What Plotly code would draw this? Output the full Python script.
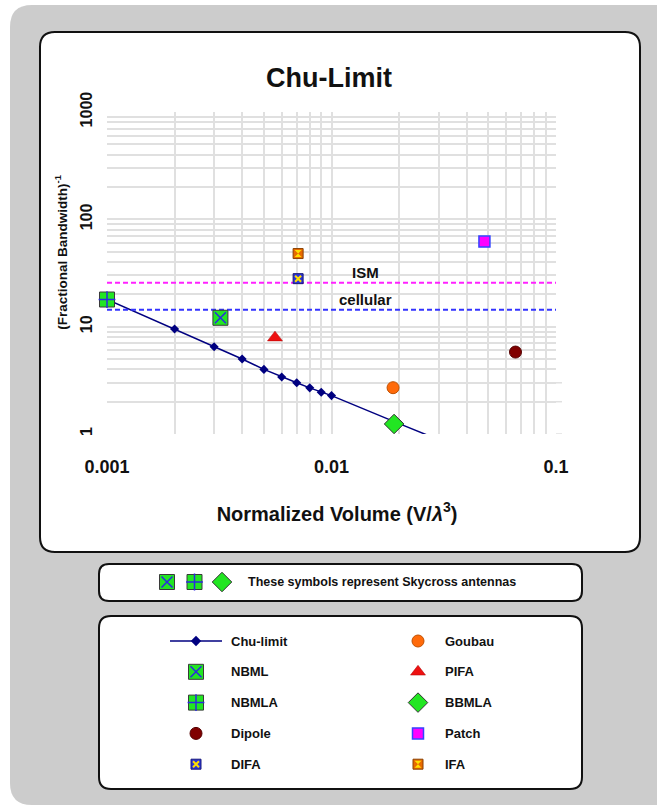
import numpy as np
import plotly.graph_objects as go

# ---------------- data ----------------
chu_x = [0.001, 0.002, 0.003, 0.004, 0.005, 0.006, 0.007, 0.008, 0.009, 0.01, 0.02, 0.03]
chu_y = [17.9, 9.5, 6.5, 5.0, 4.0, 3.4, 3.0, 2.69, 2.45, 2.28, 1.25, 0.885]

nbml_x, nbml_y = [0.0032], [12.1]
nbmla_x, nbmla_y = [0.001], [17.9]
dipole_x, dipole_y = [0.066], [5.8]
difa_x, difa_y = [0.0071], [28.0]
goubau_x, goubau_y = [0.0188], [2.7]
pifa_x, pifa_y = [0.0056], [7.9]
bbmla_x, bbmla_y = [0.019], [1.24]
patch_x, patch_y = [0.048], [62.0]
ifa_x, ifa_y = [0.0071], [48.0]

ism_level = 25.6
cellular_level = 14.4
band_labels = ["ISM", "cellular"]
band_label_x = 0.0141

x_tick_vals = [0.001, 0.01, 0.1]
x_tick_text = ["0.001", "0.01", "0.1"]
y_tick_vals = [1, 10, 100, 1000]
y_tick_text = ["1", "10", "100", "1000"]

legend_col1 = ["Chu-limit", "NBML", "NBMLA", "Dipole", "DIFA"]
legend_col2 = ["Goubau", "PIFA", "BBMLA", "Patch", "IFA"]
skycross_names = ["NBML", "NBMLA", "BBMLA"]
skycross_text = "These symbols represent Skycross antennas"

title_text = "Chu-Limit"
x_title = "Normalized Volume (V/<i>λ</i><sup>3</sup>)"
y_title = "(Fractional Bandwidth)<sup>-1</sup>"

# ---------------- styles ----------------
W, H = 657, 807
FONT = "Liberation Sans, Arial, sans-serif"
GRID = "#e0e0e0"
GREEN = "#22e622"
NAVY = "#000080"
BLUE_X = "#2a2ae0"
YELLOW = "#ffe000"
NBSP = "&nbsp;"


def px(x):
    return x / W


def py(y):
    return 1 - y / H


STYLES = {
    "NBML": [dict(symbol="square", size=15, color=GREEN, line=dict(color="#3a3a3a", width=1)),
             dict(symbol="x-thin", size=11, color=BLUE_X, line=dict(color=BLUE_X, width=1.5))],
    "NBMLA": [dict(symbol="square", size=15, color=GREEN, line=dict(color="#3a3a3a", width=1)),
              dict(symbol="cross-thin", size=12, color=BLUE_X, line=dict(color=BLUE_X, width=1.5))],
    "Dipole": [dict(symbol="circle", size=12, color="#800000", line=dict(color="#550000", width=1))],
    "DIFA": [dict(symbol="square", size=10, color="#2b35d8", line=dict(color="#1a1a7a", width=1)),
             dict(symbol="x-thin", size=6, color=YELLOW, line=dict(color=YELLOW, width=2))],
    "Goubau": [dict(symbol="circle", size=12, color="#ff6a0a", line=dict(color="#c05000", width=1))],
    "PIFA": [dict(symbol="triangle-up", size=13, color="#ee1111", line=dict(color="#aa0000", width=0.5))],
    "BBMLA": [dict(symbol="diamond", size=15, color=GREEN, line=dict(color="#333333", width=1))],
    "Patch": [dict(symbol="square", size=11, color="#ff00ff", line=dict(color="#3344ff", width=1.5))],
    "IFA": [dict(symbol="square", size=10, color="#e86a00", line=dict(color="#8a4000", width=1)),
            dict(symbol="hourglass", size=7, color=YELLOW, line=dict(color=YELLOW, width=0))],
}

SERIES = {
    "NBML": (nbml_x, nbml_y),
    "NBMLA": (nbmla_x, nbmla_y),
    "Dipole": (dipole_x, dipole_y),
    "DIFA": (difa_x, difa_y),
    "Goubau": (goubau_x, goubau_y),
    "PIFA": (pifa_x, pifa_y),
    "BBMLA": (bbmla_x, bbmla_y),
    "Patch": (patch_x, patch_y),
    "IFA": (ifa_x, ifa_y),
}

fig = go.Figure()

# Chu-limit line
fig.add_trace(go.Scatter(x=chu_x, y=chu_y, mode="lines+markers",
                         line=dict(color=NAVY, width=1.5),
                         marker=dict(symbol="diamond", size=7, color=NAVY),
                         showlegend=False, hoverinfo="skip"))

# band lines
for lvl, col in [(ism_level, "#ff22ff"), (cellular_level, "#3333ff")]:
    fig.add_trace(go.Scatter(x=[x_tick_vals[0], x_tick_vals[-1]], y=[lvl, lvl], mode="lines",
                             line=dict(color=col, width=2, dash="5px,3px"),
                             showlegend=False, hoverinfo="skip"))

# antenna markers
draw_order = ["Dipole", "Goubau", "Patch", "PIFA", "IFA", "DIFA", "NBML", "BBMLA", "NBMLA"]
for name in draw_order:
    xs, ys = SERIES[name]
    for layer in STYLES[name]:
        fig.add_trace(go.Scatter(x=xs, y=ys, mode="markers", marker=layer, cliponaxis=False,
                                 showlegend=False, hoverinfo="skip"))

# ---------------- legend / note (auxiliary pixel axis) ----------------
def add_symbol(name, cx, cy):
    for layer in STYLES[name]:
        fig.add_trace(go.Scatter(x=[cx], y=[cy], mode="markers", marker=layer,
                                 xaxis="x2", yaxis="y2", cliponaxis=False,
                                 showlegend=False, hoverinfo="skip"))


annotations = []
LEG_ROW0, LEG_STEP = 641, 30.8
COLS = [(legend_col1, 196, 229), (legend_col2, 418, 443)]
for names, mx, tx in COLS:
    for i, name in enumerate(names):
        cy = LEG_ROW0 + i * LEG_STEP
        if name == "Chu-limit":
            fig.add_trace(go.Scatter(x=[mx - 26, mx, mx + 26], y=[cy, cy, cy], mode="lines",
                                     line=dict(color=NAVY, width=1.5), xaxis="x2", yaxis="y2",
                                     cliponaxis=False, showlegend=False, hoverinfo="skip"))
            fig.add_trace(go.Scatter(x=[mx], y=[cy], mode="markers",
                                     marker=dict(symbol="diamond", size=8, color=NAVY),
                                     xaxis="x2", yaxis="y2", cliponaxis=False,
                                     showlegend=False, hoverinfo="skip"))
        else:
            add_symbol(name, mx, cy)
        annotations.append(dict(x=px(tx), y=py(cy), xref="paper", yref="paper",
                                text=f"<b>{name}</b>", showarrow=False, xanchor="left",
                                yanchor="middle", font=dict(family=FONT, size=13, color="#111")))

SKY_Y = 582
for i, name in enumerate(skycross_names):
    add_symbol(name, 167 + i * 27.5, SKY_Y)
annotations.append(dict(x=px(245.5), y=py(SKY_Y), xref="paper", yref="paper",
                        text=f"<b>{skycross_text}</b>", showarrow=False, xanchor="left",
                        yanchor="middle", font=dict(family=FONT, size=12.5, color="#111")))

# band labels
for lbl, lvl in zip(band_labels, [ism_level, cellular_level]):
    annotations.append(dict(x=np.log10(band_label_x), y=np.log10(lvl), xref="x", yref="y",
                            text=f"<b>{lbl}</b>", showarrow=False, xanchor="center",
                            yanchor="bottom", yshift=0,
                            font=dict(family=FONT, size=15, color="#111")))

# ---------------- panels ----------------
def rrect(x0, y0, x1, y1, r, fill, line_color=None, lw=0):
    pts = [("M", x0 + r, y0), ("L", x1 - r, y0), ("Q", x1, y0, x1, y0 + r), ("L", x1, y1 - r),
           ("Q", x1, y1, x1 - r, y1), ("L", x0 + r, y1), ("Q", x0, y1, x0, y1 - r),
           ("L", x0, y0 + r), ("Q", x0, y0, x0 + r, y0)]
    parts = []
    for p in pts:
        cmd, coords = p[0], p[1:]
        xy = []
        for j in range(0, len(coords), 2):
            xy.append(f"{px(coords[j]):.5f},{py(coords[j + 1]):.5f}")
        parts.append(cmd + " " + " ".join(xy))
    path = " ".join(parts) + " Z"
    return dict(type="path", path=path, xref="paper", yref="paper", fillcolor=fill,
                line=dict(color=line_color or fill, width=lw), layer="below")


shapes = [
    rrect(10, 5, 700, 805, 22, "#cccccc"),
    rrect(40, 32, 640, 552, 15, "white", "#111111", 2),
    rrect(99, 564, 582, 601, 10, "white", "#111111", 2),
    rrect(99, 616, 582, 789, 12, "white", "#111111", 2),
]

# decade tick stubs
X0, X1, Y0, Y1 = 107, 556, 112, 434
for v in x_tick_vals:
    shapes.append(dict(type="line", xref="x", yref="paper", x0=np.log10(v), x1=np.log10(v),
                       y0=py(Y1), y1=py(Y1 + 9), line=dict(color=GRID, width=1.5), layer="below"))
for v in y_tick_vals:
    shapes.append(dict(type="line", xref="paper", yref="y", x0=px(X1), x1=px(X1 + 6),
                       y0=np.log10(v), y1=np.log10(v), line=dict(color=GRID, width=1.5), layer="below"))

minor_x = [m * 10.0 ** e for e in (-3, -2) for m in range(2, 10)]
minor_y = [m * 10.0 ** e for e in (0, 1, 2) for m in range(2, 10)]

fig.update_layout(
    width=W, height=H,
    margin=dict(l=0, r=0, t=0, b=0),
    paper_bgcolor="white",
    plot_bgcolor="rgba(0,0,0,0)",
    showlegend=False,
    shapes=shapes,
    annotations=annotations,
    title=dict(text=f"<b>{title_text}</b>", x=px(329), y=py(78), xref="paper", yref="paper",
               xanchor="center", yanchor="middle", font=dict(family=FONT, size=27, color="#111")),
    xaxis=dict(type="log", range=[-3, -1], domain=[px(X0), px(X1)], anchor="y",
               tickmode="array", tickvals=x_tick_vals, ticktext=[f"<b>{t}</b>" for t in x_tick_text],
               showgrid=True, gridcolor=GRID, gridwidth=1.5, zeroline=False, showline=False,
               minor=dict(tickmode="array", tickvals=minor_x, showgrid=True, gridcolor=GRID,
                          gridwidth=1.5, ticks=""),
               ticks="", ticklabelstandoff=20, automargin=False,
               title=dict(text=f"<b>{NBSP * 2}{x_title}</b>", standoff=30,
                          font=dict(family=FONT, size=20, color="#111")),
               tickfont=dict(family=FONT, size=18, color="#111")),
    yaxis=dict(type="log", range=[0, 3], domain=[py(Y1), py(Y0)], anchor="x",
               tickmode="array", tickvals=y_tick_vals, ticktext=[f"<b>{t}</b>" for t in y_tick_text],
               tickangle=-90,
               showgrid=True, gridcolor=GRID, gridwidth=1.5, zeroline=False, showline=False,
               minor=dict(tickmode="array", tickvals=minor_y, showgrid=True, gridcolor=GRID,
                          gridwidth=1.5, ticks=""),
               ticks="", ticklabelstandoff=11, automargin=False,
               title=dict(text=f"<b>{NBSP * 11}{y_title}</b>", standoff=7,
                          font=dict(family=FONT, size=13.5, color="#111")),
               tickfont=dict(family=FONT, size=16, color="#111")),
    xaxis2=dict(domain=[0, 1], range=[0, W], visible=False, fixedrange=True, anchor="y2"),
    yaxis2=dict(domain=[0, 1], range=[H, 0], visible=False, fixedrange=True, anchor="x2"),
)

fig.write_html("out.html", config={"displayModeBar": False},
               post_script="document.body.style.margin='0';")
